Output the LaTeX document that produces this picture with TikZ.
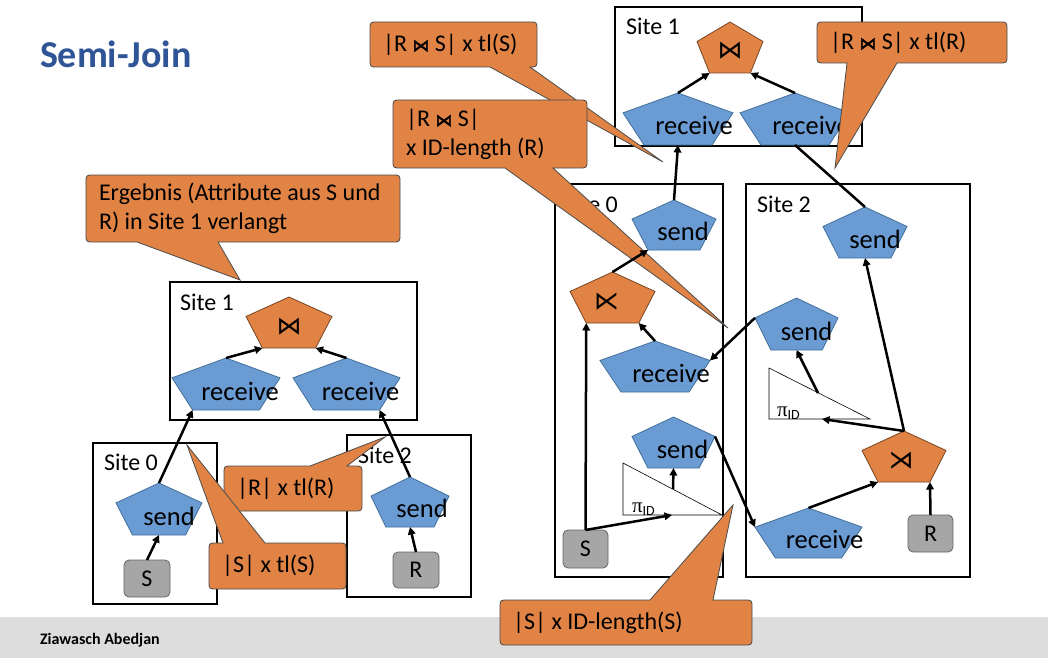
\documentclass[tikz,border=0pt]{standalone}
\usepackage{fontspec}
\setmainfont{Carlito}
\newfontfamily\symfont{DejaVu Sans}
\newfontfamily\symbold{DejaVu Sans}[FakeBold=2.5]
\newfontfamily\grk{Liberation Serif}
\usetikzlibrary{arrows.meta,calc}
\definecolor{orng}{RGB}{224,131,69}
\definecolor{orngedge}{RGB}{120,70,35}
\definecolor{blu}{RGB}{107,155,211}
\definecolor{bluedge}{RGB}{65,113,156}
\definecolor{gry}{RGB}{166,166,166}
\definecolor{titleblue}{RGB}{47,85,151}
\definecolor{footgray}{RGB}{220,221,220}
% pentagon: name, left, top, width, height, style
\newcommand\pent[6]{%
  \coordinate (#1-t) at ({#2+#4/2},#3);
  \coordinate (#1-ul) at (#2,{#3+0.382*#5});
  \coordinate (#1-ur) at ({#2+#4},{#3+0.382*#5});
  \coordinate (#1-bl) at ({#2+0.191*#4},{#3+#5});
  \coordinate (#1-br) at ({#2+0.809*#4},{#3+#5});
  \coordinate (#1-b) at ({#2+#4/2},{#3+#5});
  \path[#6] (#1-t) -- (#1-ur) -- (#1-br) -- (#1-bl) -- (#1-ul) -- cycle;
}
% callout with tail on bottom edge: name, L, T, R, B, a1, a2, text ; tip = (name-tip)
\newcommand\callb[8]{%
  \path[callout] ({#2+8},#3) -- ({#4-8},#3) .. controls (#4,#3) .. (#4,{#3+8})
    -- (#4,{#5-8}) .. controls (#4,#5) .. ({#4-8},#5) -- (#7,#5) -- (#1-tip) -- (#6,#5)
    -- ({#2+8},#5) .. controls (#2,#5) .. (#2,{#5-8}) -- (#2,{#3+8}) .. controls (#2,#3) .. ({#2+8},#3) -- cycle;
  \node[ctext] (#1) at ({#2+13},{(#3+#5)/2}) {#8};
}
% callout with tail on top edge
\newcommand\callt[8]{%
  \path[callout] ({#2+8},#3) -- (#6,#3) -- (#1-tip) -- (#7,#3) -- ({#4-8},#3) .. controls (#4,#3) .. (#4,{#3+8})
    -- (#4,{#5-8}) .. controls (#4,#5) .. ({#4-8},#5)
    -- ({#2+8},#5) .. controls (#2,#5) .. (#2,{#5-8}) -- (#2,{#3+8}) .. controls (#2,#3) .. ({#2+8},#3) -- cycle;
  \node[ctext] (#1) at ({#2+13},{(#3+#5)/2}) {#8};
}
\newcommand\bt{{\symbold\fontsize{17}{17}\selectfont ⋈}}
\begin{document}
\begin{tikzpicture}[x=1pt,y=-1pt,
  every node/.style={inner sep=0pt, outer sep=0pt},
  sitebox/.style={draw=black, line width=2.8pt},
  sitelabel/.style={anchor=base west, font=\fontsize{24}{24}\selectfont},
  bluep/.style={fill=blu, draw=bluedge, line width=0.8pt},
  orngp/.style={fill=orng, draw=orngedge, line width=0.8pt},
  ptext/.style={anchor=base, font=\fontsize{26.5}{26.5}\selectfont},
  symtext/.style={anchor=base, font=\symfont\fontsize{25}{25}\selectfont},
  arr/.style={line width=2.5pt, -{Triangle[length=7.5pt,width=7.5pt]}},
  conn/.style={line width=2.5pt},
  callout/.style={fill=orng, draw=black!70, line width=0.8pt},
  ctext/.style={anchor=west, align=left, font=\fontsize{24}{29}\selectfont},
  relbox/.style={draw=black!60, fill=gry, rounded corners=5pt, line width=0.8pt, font=\fontsize{24}{24}\selectfont},
  projtri/.style={draw=black, fill=white, line width=0.6pt},
  pilabel/.style={anchor=base west, font=\fontsize{21}{21}\selectfont},
]
\useasboundingbox (0,0) rectangle (1048,658);
\fill[white] (0,0) rectangle (1048,658);
\fill[footgray] (0,617) rectangle (1048,658);
\node[anchor=west, font=\bfseries\fontsize{16}{16}\selectfont] (author) at (40,640) {Ziawasch Abedjan};
\node[anchor=base west, text=titleblue, font=\bfseries\fontsize{38}{38}\selectfont] (title) at (40,68) {Semi-Join};

% ===== LEFT DIAGRAM =====
\draw[sitebox] (170,282) rectangle (417,420);
\draw[sitebox] (93,443) rectangle (217,604);
\draw[sitebox] (347,435) rectangle (471,597);
\node[sitelabel] (lsite1) at (180,310) {Site 1};
\node[sitelabel] (lsite0) at (104,470) {Site 0};
\node[sitelabel] (lsite2) at (358,463) {Site 2};

\pent{LJ}{246}{297}{86}{51}{orngp}
\node[symtext] (LJs) at ($(LJ-b)+(0,-14)$) {⋈};
\pent{LR1}{172}{358}{108}{52}{bluep}
\node[ptext] (LR1) at ($(LR1-b)+(14,-10)$) {receive};
\pent{LR2}{293}{358}{107}{52}{bluep}
\node[ptext] (LR2) at ($(LR2-b)+(14,-10)$) {receive};
\pent{LS0}{116}{483}{86}{52}{bluep}
\node[ptext] (LS0) at ($(LS0-b)+(10,-10)$) {send};
\pent{LS2}{371}{477}{78}{50}{bluep}
\node[ptext] (LS2) at ($(LS2-b)+(12,-10)$) {send};
\node[relbox, minimum width=46pt, minimum height=37pt] (LS) at (147,578.5) {S};
\node[relbox, minimum width=46pt, minimum height=36pt] (LR) at (416,570) {R};

\draw[arr] (LR1-t) -- (LJ-bl);
\draw[arr] (LR2-t) -- (LJ-br);
\draw[arr] (LS0-t) -- (LR1-bl);
\draw[arr] (LS2-t) -- (LR2-br);
\draw[arr] (LS.north) -- (LS0-b);
\draw[arr] (LR.north) -- (LS2-b);

% ===== RIGHT DIAGRAM =====
\draw[sitebox] (615,7) rectangle (862,146);
\draw[sitebox] (555,184) rectangle (723,577);
\draw[sitebox] (746,184) rectangle (970,577);
\node[sitelabel] (rsite1) at (626,35) {Site 1};
\node[sitelabel] (rsite0) at (564,212) {Site 0};
\node[sitelabel] (rsite2) at (757,212) {Site 2};

\pent{RJ}{697}{22}{66}{51}{orngp}
\node[symtext] (RJs) at ($(RJ-b)+(0,-14)$) {⋈};
\pent{RR1}{623}{93}{110}{52}{bluep}
\node[ptext] (RR1) at ($(RR1-b)+(16,-10)$) {receive};
\pent{RR2}{740}{93}{110}{52}{bluep}
\node[ptext] (RR2) at ($(RR2-b)+(16,-10)$) {receive};

\pent{A0}{632}{200}{84}{50}{bluep}
\node[ptext] (A0) at ($(A0-b)+(9,-10)$) {send};
\pent{B0}{570}{272}{85}{51}{orngp}
\node[symtext] (B0s) at ($(B0-b)+(-6,-14)$) {⋉};
\pent{C0}{600}{341}{110}{51}{bluep}
\node[ptext] (C0) at ($(C0-b)+(16,-10)$) {receive};
\pent{D0}{632}{417}{83}{51}{bluep}
\node[ptext] (D0) at ($(D0-b)+(9,-10)$) {send};
\node[relbox, minimum width=45pt, minimum height=38pt] (RS) at (585.5,549) {S};
\path[projtri] (623,463) -- (623,515) -- (722,515) -- cycle;
\coordinate (T0in) at (672,515);
\coordinate (T0out) at (673,489);
\node[pilabel] (pi0) at (632,512) {{\grk π}\raisebox{-3pt}{\fontsize{14}{14}\selectfont ID}};

\pent{A2}{823}{207}{84}{51}{bluep}
\node[ptext] (A2) at ($(A2-b)+(10,-10)$) {send};
\pent{B2}{755}{298}{83}{52}{bluep}
\node[ptext] (B2) at ($(B2-b)+(10,-10)$) {send};
\path[projtri] (769,368) -- (769,419) -- (870,419) -- cycle;
\coordinate (T2in) at (822,419);
\coordinate (T2out) at (818,393);
\node[pilabel] (pi2) at (777,416) {{\grk π}\raisebox{-3pt}{\fontsize{14}{14}\selectfont ID}};
\pent{C2}{862}{431}{84}{51}{orngp}
\node[symtext] (C2s) at ($(C2-b)+(-3,-14)$) {⋊};
\pent{D2}{755}{508}{107}{50}{bluep}
\node[ptext] (D2) at ($(D2-b)+(16,-10)$) {receive};
\node[relbox, minimum width=45pt, minimum height=37pt] (RR) at (930.5,533.5) {R};

\draw[arr] (RR1-t) -- (RJ-bl);
\draw[arr] (RR2-t) -- (RJ-br);
\draw[arr] (A0-t) -- (RR1-b);
\draw[conn] (A2-t) -- (RR2-b);
\draw[arr] (C0-t) -- (B0-br);
\draw[arr] (RS.north) -- (B0-bl);
\draw[arr] (RS.north) -- (T0in);
\draw[arr] (T0out) -- (D0-b);
\draw[arr] (D0-ur) -- (D2-ul);
\draw[arr] (B2-ul) -- (C0-ur);
\draw[arr] (T2out) -- (B2-b);
\draw[arr] (C2-t) -- (A2-b);
\draw[arr] (C2-t) -- (T2in);
\draw[arr] (D2-t) -- (C2-bl);
\draw[arr] (RR.north) -- (C2-br);

% ===== CALLOUTS =====
\coordinate (c1-tip) at (240,280);
\callb{c1}{86}{175}{400}{242}{137}{218}{Ergebnis (Attribute aus S und\\R) in Site 1 verlangt}
\coordinate (c2-tip) at (385,437);
\callt{c2}{224}{466}{362}{511}{310}{347}{|R| x tl(R)}
\coordinate (c3-tip) at (187,445);
\callt{c3}{209}{543}{346}{589}{223}{265}{|S| x tl(S)}
\coordinate (c4-tip) at (663,162);
\callb{c4}{370}{22}{537}{67}{490}{530}{|R \bt{} S| x tl(S)}
\coordinate (c5-tip) at (728,328);
\callb{c5}{393}{100}{587}{168}{505}{553}{|R \bt{} S|\\x ID-length (R)}
\coordinate (c6-tip) at (835,168);
\callb{c6}{817}{22}{1007}{63}{847}{897}{|R \bt{} S| x tl(R)}
\coordinate (c7-tip) at (733,505);
\callt{c7}{500}{600}{752}{645}{650}{713}{|S| x ID-length(S)}

% arrow drawn over the callout tail
\draw[arr] (B0-t) -- (A0-bl);
\end{tikzpicture}
\end{document}
